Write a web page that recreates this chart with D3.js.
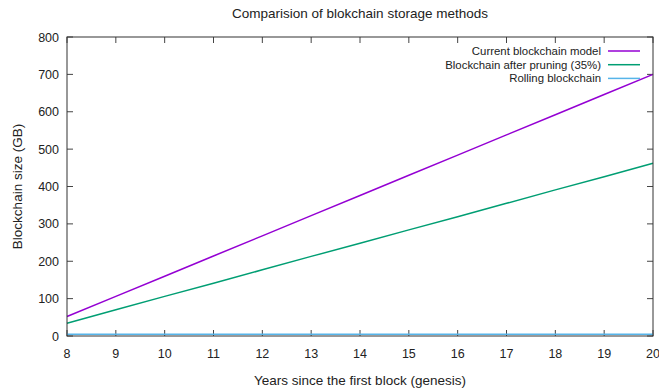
<!DOCTYPE html>
<html>
<head>
<meta charset="utf-8">
<script src="https://cdn.jsdelivr.net/npm/d3@7"></script>
<style>
body { margin: 0; background: #fff; }
text { font-family: "Liberation Sans", sans-serif; fill: #222; }
</style>
</head>
<body>
<div id="chart"></div>
<script>
var width = 659, height = 391;
var margin = {top: 37, right: 6, bottom: 55, left: 67};

// data
var years = [8, 9, 10, 11, 12, 13, 14, 15, 16, 17, 18, 19, 20];
var current = [52, 106, 160, 214, 268, 322, 376, 430, 484, 538, 592, 646, 700];
var pruned = [34, 70, 106, 141, 177, 213, 248, 284, 319, 355, 391, 426, 462];
var rolling = [5, 5, 5, 5, 5, 5, 5, 5, 5, 5, 5, 5, 5];
var seriesNames = ["Current blockchain model", "Blockchain after pruning (35%)", "Rolling blockchain"];
var seriesColors = ["#9400d3", "#009e73", "#56b4e9"];
var yTicks = [0, 100, 200, 300, 400, 500, 600, 700, 800];

var svg = d3.select("#chart").append("svg")
	.attr("width", width)
	.attr("height", height);

var x = d3.scaleLinear().domain([8, 20]).range([margin.left, width - margin.right]);
var y = d3.scaleLinear().domain([0, 800]).range([height - margin.bottom, margin.top]);

var x0 = x.range()[0], x1 = x.range()[1];
var y0 = y.range()[0], y1 = y.range()[1];

// ticks, inward on all four sides
var g = svg.append("g");
years.forEach(function(t){
	g.append("line").attr("x1", x(t)).attr("x2", x(t)).attr("y1", y0).attr("y2", y0 - 6);
	g.append("line").attr("x1", x(t)).attr("x2", x(t)).attr("y1", y1).attr("y2", y1 + 6);
	g.append("text").attr("x", x(t)).attr("y", y0 + 22)
		.attr("text-anchor", "middle").style("font-size", "12.5px").text(t);
});
yTicks.forEach(function(t){
	g.append("line").attr("x1", x0).attr("x2", x0 + 6).attr("y1", y(t)).attr("y2", y(t));
	g.append("line").attr("x1", x1).attr("x2", x1 - 6).attr("y1", y(t)).attr("y2", y(t));
	g.append("text").attr("x", x0 - 8).attr("y", y(t) + 4.5)
		.attr("text-anchor", "end").style("font-size", "12.5px").text(t);
});
g.selectAll("line").style("stroke", "#444").style("stroke-width", 1);

var all = [current, pruned, rolling];
var line = d3.line()
	.x(function(d, i){ return x(years[i]); })
	.y(function(d){ return y(d); });

svg.selectAll("path.series")
	.data(all)
	.enter()
	.append("path")
	.attr("class", "series")
	.attr("d", line)
	.style("fill", "none")
	.style("stroke", function(d, i){ return seriesColors[i]; })
	.style("stroke-width", 1.5);

svg.append("rect")
	.attr("x", x0).attr("y", y1)
	.attr("width", x1 - x0).attr("height", y0 - y1)
	.style("fill", "none").style("stroke", "#333").style("stroke-width", 1);

// legend
for (var i = 0; i < seriesNames.length; i++) {
	var ly = 51 + i * 13.7;
	svg.append("text").attr("x", 601).attr("y", ly + 4)
		.attr("text-anchor", "end").style("font-size", "11.4px").text(seriesNames[i]);
	svg.append("line").attr("x1", 608).attr("x2", 640).attr("y1", ly).attr("y2", ly)
		.style("stroke", seriesColors[i]).style("stroke-width", 1.5);
}

svg.append("text").attr("x", 360).attr("y", 18)
	.attr("text-anchor", "middle").style("font-size", "13.5px")
	.text("Comparision of blokchain storage methods");

svg.append("text").attr("x", 360).attr("y", 385)
	.attr("text-anchor", "middle").style("font-size", "13.5px")
	.text("Years since the first block (genesis)");

svg.append("text")
	.attr("transform", "translate(22," + ((y0 + y1) / 2) + ") rotate(-90)")
	.attr("text-anchor", "middle").style("font-size", "13.5px")
	.text("Blockchain size (GB)");
</script>
</body>
</html>
